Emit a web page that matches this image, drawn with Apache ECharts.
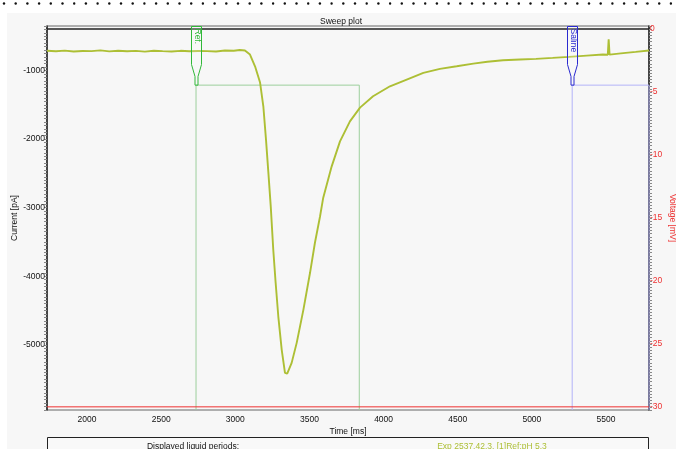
<!DOCTYPE html>
<html>
<head>
<meta charset="utf-8">
<script src="https://cdn.jsdelivr.net/npm/echarts@6/dist/echarts.min.js"></script>
<style>
html,body{margin:0;padding:0;background:#fff;}
#c{width:676px;height:449px;}
</style>
</head>
<body>
<div id="c"></div>
<script>
// ---- data ----
const currentTime = [1730,1790,1850,1910,1970,2030,2090,2150,2210,2270,2330,2390,2450,2510,2570,2630,2690,2750,2810,2870,2930,2990,3030,3065,3099,3133,3167,3189,3207,3223,3239,3256,3272,3290,3313,3335,3342,3350,3380,3414,3459,3504,3537,3571,3593,3650,3706,3773,3841,3929,4043,4156,4268,4380,4493,4605,4700,4805,4920,5028,5140,5250,5370,5479,5512,5518,5524,5600,5700,5790];
const currentValues = [-712,-718,-709,-722,-714,-716,-705,-720,-711,-719,-713,-723,-710,-717,-721,-712,-718,-714,-716,-722,-708,-711,-700,-708,-766,-937,-1175,-1521,-2007,-2489,-2981,-3613,-4095,-4587,-5073,-5409,-5438,-5420,-5263,-4971,-4489,-3949,-3511,-3132,-2854,-2397,-2032,-1740,-1540,-1375,-1229,-1131,-1034,-975,-937,-898,-872,-850,-838,-829,-815,-800,-782,-766,-770,-545,-768,-750,-728,-708];
const voltageTime = [1730, 5790];
const voltageValues = [-30, -30];
const periodNames = ['Ref.', 'Saline'];
const periodStart = [2735, 5272];
const periodEnd = [3836, 5790];
const periodLevel = 0.846;
const xTicks = [2000,2500,3000,3500,4000,4500,5000,5500];
const currentTicks = [-1000,-2000,-3000,-4000,-5000];
const voltageTicks = [0,-5,-10,-15,-20,-25,-30];

// ---- styles ----
const FONT = 'Liberation Sans, Arial, sans-serif';
const FS = 8.5;
const traceColor = '#adbf35';
const voltColor = '#ee3030';
const flagColors = ['#30b838', '#2a2ad0'];
const boxColors = ['#9ccf9c', '#b3b3f8'];
const plain = v => String(v);

const chart = echarts.init(document.getElementById('c'), null, {renderer: 'canvas'});

const dots = [];
for (let i = 0; i < 60; i++) {
  dots.push({type: 'circle', silent: true, shape: {cx: 4 + i * 11.7, cy: 3.5, r: 1.2}, style: {fill: '#111'}});
}

const boxSeries = periodStart.map((s, i) => ({
  type: 'line', xAxisIndex: 0, yAxisIndex: 2, symbol: 'none', silent: true, animation: false,
  lineStyle: {color: boxColors[i], width: 1},
  data: [[s, 0], [s, periodLevel], [periodEnd[i], periodLevel], [periodEnd[i], 0]],
  z: 3
}));

const option = {
  backgroundColor: '#ffffff',
  animation: false,
  graphic: [
    {type: 'rect', silent: true, z: -10, shape: {x: 7, y: 13, width: 669, height: 436}, style: {fill: '#f7f7f7'}},
    ...dots,
    {type: 'text', silent: true, style: {x: 341, y: 17, text: 'Sweep plot', font: FS + 'px ' + FONT, fill: '#111', textAlign: 'center', textVerticalAlign: 'top'}},
    {type: 'rect', silent: true, shape: {x: 47.5, y: 437.5, width: 601, height: 30}, style: {fill: '#f9f9f9', stroke: '#222', lineWidth: 1}},
    {type: 'text', silent: true, style: {x: 193, y: 442, text: 'Displayed liquid periods:', font: FS + 'px ' + FONT, fill: '#111', textAlign: 'center', textVerticalAlign: 'top'}},
    {type: 'text', silent: true, style: {x: 492, y: 442, text: 'Exp 2537.42.3. [1]Ref:pH 5.3', font: FS + 'px ' + FONT, fill: traceColor, textAlign: 'center', textVerticalAlign: 'top'}}
  ],
  grid: {left: 47, right: 27, top: 26, bottom: 39, containLabel: false, outerBoundsMode: 'none',
         show: true, backgroundColor: '#f7f7f7', borderColor: '#666', borderWidth: 1},
  xAxis: {
    type: 'value', min: 1730, max: 5790,
    axisLine: {show: true, lineStyle: {color: '#222', width: 1.5}},
    axisTick: {show: false},
    splitLine: {show: false},
    axisLabel: {customValues: xTicks, formatter: plain, fontSize: FS, fontFamily: FONT, color: '#111', margin: 5},
    name: 'Time [ms]', nameLocation: 'middle', nameGap: 17, nameMoveOverlap: false,
    nameTextStyle: {fontSize: FS, fontFamily: FONT, color: '#111'}
  },
  yAxis: [
    {
      type: 'value', min: -5950, max: -350, interval: 50, position: 'left',
      axisLine: {show: true, onZero: false, lineStyle: {color: '#222', width: 1.5}},
      axisTick: {show: true, inside: false, length: 3, lineStyle: {color: '#888'}},
      splitLine: {show: false},
      axisLabel: {customValues: currentTicks, formatter: plain, fontSize: FS, fontFamily: FONT, color: '#111', margin: 2},
      name: 'Current [pA]', nameLocation: 'middle', nameGap: 28, nameMoveOverlap: false,
      nameTextStyle: {fontSize: FS, fontFamily: FONT, color: '#111'}
    },
    {
      type: 'value', min: -30.25, max: 0.25, interval: 0.25, position: 'right',
      axisLine: {show: true, onZero: false, lineStyle: {color: '#222', width: 1.5}},
      axisTick: {show: true, inside: false, length: 3, lineStyle: {color: '#888'}},
      splitLine: {show: false},
      axisLabel: {customValues: voltageTicks, formatter: plain, fontSize: FS, fontFamily: FONT, color: voltColor, margin: 1},
      name: 'Voltage [mV]', nameLocation: 'middle', nameGap: 19, nameRotate: -90, nameMoveOverlap: false,
      nameTextStyle: {fontSize: FS, fontFamily: FONT, color: voltColor}
    },
    {type: 'value', min: 0, max: 1, show: false}
  ],
  series: [
    ...boxSeries,
    {
      type: 'line', xAxisIndex: 0, yAxisIndex: 1, symbol: 'none', silent: true,
      lineStyle: {color: voltColor, width: 1},
      data: voltageTime.map((t, i) => [t, voltageValues[i]]), z: 4
    },
    {
      type: 'line', xAxisIndex: 0, yAxisIndex: 0, symbol: 'none', silent: true,
      lineStyle: {color: traceColor, width: 1.9},
      data: currentTime.map((t, i) => [t, currentValues[i]]), z: 5
    },
    {
      type: 'custom', xAxisIndex: 0, yAxisIndex: 2, silent: true, z: 6,
      data: periodStart.map(s => [s, periodLevel]),
      renderItem: function (params, api) {
        const i = params.dataIndex;
        const p = api.coord([api.value(0), api.value(1)]);
        const x = Math.round(p[0]) + 0.5;
        const top = params.coordSys.y + 0.5;
        const stemBottom = p[1];
        const hw = 5, sw = 1.5;
        const rb = top + 38, tb = top + 50;
        const col = flagColors[i];
        return {
          type: 'group',
          children: [
            {type: 'polygon', shape: {points: [[x - hw, top], [x + hw, top], [x + hw, rb], [x + sw, tb], [x + sw, stemBottom], [x - sw, stemBottom], [x - sw, tb], [x - hw, rb]]},
             style: {fill: 'rgba(255,255,255,0.2)', stroke: col, lineWidth: 1}},
            {type: 'text', x: x + 0.5, y: top + 2, rotation: -Math.PI / 2,
             style: {text: periodNames[i], fill: col, font: FS + 'px ' + FONT, textAlign: 'left', textVerticalAlign: 'middle'}}
          ]
        };
      }
    }
  ]
};
chart.setOption(option);
</script>
</body>
</html>
